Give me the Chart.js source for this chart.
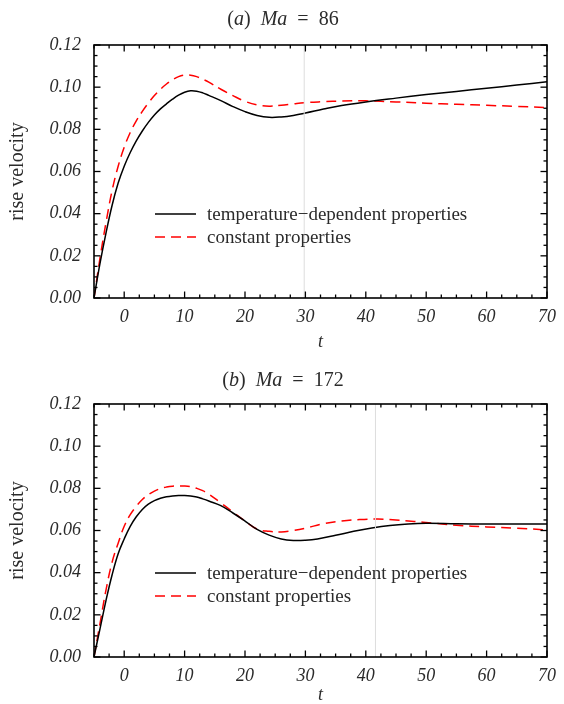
<!DOCTYPE html>
<html><head><meta charset="utf-8">
<script src="https://cdn.jsdelivr.net/npm/chart.js@4.4.1/dist/chart.umd.min.js"></script>
<style>
html,body{margin:0;padding:0;background:#fff;}
.box{position:absolute;left:0;width:564px;}
</style></head><body>
<div class="box" style="top:0;height:360px"><canvas id="c1" width="564" height="360"></canvas></div>
<div class="box" style="top:360px;height:344px"><canvas id="c2" width="564" height="344"></canvas></div>
<script>
// ---- data ----
const legendLabels = ['temperature\u2212dependent properties', 'constant properties'];
const xTickVals = [0, 10, 20, 30, 40, 50, 60, 70];
const yTickVals = [0, 0.02, 0.04, 0.06, 0.08, 0.10, 0.12];
const yTickLabels = ['0.00', '0.02', '0.04', '0.06', '0.08', '0.10', '0.12'];

// (a) Ma = 86
const tA_black = [-5,-4,-3,-2,-1,0,1,2,3,4,5,6,7,8,9,10,11,12,13,14,16,18,20,22,24,26,28,30,33,36,40,45,50,55,60,65,70];
const vA_black = [0,0.0165,0.031,0.044,0.0545,0.0625,0.0690,0.0745,0.0792,0.0833,0.0868,0.0897,0.0921,0.0943,0.0962,0.0976,0.0983,0.0981,0.0973,0.0961,0.0936,0.0908,0.0884,0.0866,0.0857,0.0859,0.0866,0.0877,0.0896,0.0913,0.0930,0.0948,0.0965,0.0980,0.0995,0.1010,0.1026];
const tA_red = [-5,-4,-3,-2,-1,0,1,2,3,4,5,6,7,8,9,10,11,12,13,14,16,18,20,22,24,26,28,30,33,36,40,45,50,55,60,65,70];
const vA_red = [0,0.019,0.036,0.051,0.0625,0.0715,0.0785,0.0840,0.0885,0.0925,0.0960,0.0990,0.1015,0.1035,0.1050,0.1057,0.1057,0.1050,0.1038,0.1024,0.0990,0.0960,0.0933,0.0916,0.0910,0.0914,0.0921,0.0927,0.0931,0.0934,0.0935,0.0930,0.0924,0.0919,0.0914,0.0909,0.0903];
const tA_mark = [29.8, 29.8];
const vA_mark = [0, 0.12];

// (b) Ma = 172
const tB_black = [-5,-4,-3,-2,-1,0,1,2,3,4,5,6,7,8,9,10,11,12,13,14,16,18,20,22,24,26,28,30,32,35,38,41,44,47,50,55,60,65,70];
const vB_black = [0,0.0135,0.027,0.039,0.049,0.056,0.062,0.0665,0.0700,0.0725,0.0742,0.0753,0.0760,0.0764,0.0766,0.0766,0.0764,0.0759,0.0750,0.0740,0.0718,0.0683,0.0645,0.0605,0.0578,0.0560,0.0553,0.0554,0.0560,0.0577,0.0596,0.0612,0.0624,0.0631,0.0634,0.0632,0.0631,0.0631,0.0631];
const tB_red = [-5,-4,-3,-2,-1,0,1,2,3,4,5,6,7,8,9,10,11,12,13,14,16,18,20,22,24,26,28,30,33,36,39,42,45,48,51,55,60,65,70];
const vB_red = [0,0.016,0.032,0.045,0.054,0.062,0.0675,0.0715,0.0747,0.0770,0.0787,0.0799,0.0806,0.0810,0.0811,0.0811,0.0808,0.0800,0.0789,0.0773,0.0731,0.0688,0.0645,0.0607,0.0596,0.0593,0.0600,0.0611,0.0632,0.0645,0.0652,0.0654,0.0650,0.0643,0.0635,0.0625,0.0617,0.0611,0.0603];
const tB_mark = [41.6, 41.6];
const vB_mark = [0, 0.12];

const titleA = [['(',0],['a',1],[')',0],['\u2002',0],['Ma',1],['\u2002=\u200286',0]];
const titleB = [['(',0],['b',1],[')',0],['\u2002',0],['Ma',1],['\u2002=\u2002172',0]];

// ---- drawing ----
const SERIF = "'Liberation Serif', 'Times New Roman', serif";
const TXT = '#2b2b2b';

function framePlugin(cfg) {
  return {
    id: 'frame',
    afterDatasetsDraw(chart) {
      const ctx = chart.ctx;
      const {left, right, top, bottom} = chart.chartArea;
      const xs = chart.scales.x, ys = chart.scales.y;
      ctx.save();
      ctx.strokeStyle = '#000';
      ctx.lineWidth = 1.3;
      const line = (a, b, c, d) => { ctx.beginPath(); ctx.moveTo(a, b); ctx.lineTo(c, d); ctx.stroke(); };
      for (let v = xs.min; v <= xs.max + 1e-9; v += 2.5) {
        const px = xs.getPixelForValue(v);
        const L = Math.abs(v % 10) < 1e-6 ? 6.5 : 3.5;
        line(px, bottom, px, bottom - L);
        line(px, top, px, top + L);
      }
      for (let k = 0; k <= 24; k++) {
        const v = k * 0.005;
        const py = ys.getPixelForValue(v);
        const L = k % 4 === 0 ? 6.5 : 3.5;
        line(left, py, left + L, py);
        line(right, py, right - L, py);
      }
      ctx.lineWidth = 1.6;
      ctx.strokeRect(left, top, right - left, bottom - top);
      // legend
      const ly = [top + 169, top + 192];
      const ds = chart.data.datasets;
      for (let i = 0; i < 2; i++) {
        const d = ds[i + 1];
        ctx.strokeStyle = d.borderColor;
        ctx.lineWidth = d.borderWidth;
        ctx.setLineDash(d.borderDash || []);
        line(left + 61, ly[i], left + 102, ly[i]);
        ctx.setLineDash([]);
        ctx.fillStyle = TXT;
        ctx.font = '19px ' + SERIF;
        ctx.textBaseline = 'middle';
        ctx.textAlign = 'left';
        ctx.fillText(d.label, left + 113, ly[i] + 1);
      }
      // title
      const fs = 20;
      const segs = cfg.title;
      let w = 0;
      segs.forEach(s => { ctx.font = (s[1] ? 'italic ' : '') + fs + 'px ' + SERIF; w += ctx.measureText(s[0]).width; });
      let x = 283 - w / 2;
      ctx.textBaseline = 'middle';
      segs.forEach(s => {
        ctx.font = (s[1] ? 'italic ' : '') + fs + 'px ' + SERIF;
        ctx.fillText(s[0], x, cfg.titleY);
        x += ctx.measureText(s[0]).width;
      });
      ctx.restore();
    }
  };
}

function makeChart(id, cfg) {
  const toXY = (ts, vs) => ts.map((t, i) => ({x: t, y: vs[i]}));
  return new Chart(document.getElementById(id), {
    type: 'line',
    data: {datasets: [
      {label: 'marker', data: toXY(cfg.markT, cfg.markV), borderColor: '#dddddd', borderWidth: 1, pointRadius: 0, tension: 0},
      {label: legendLabels[0], data: toXY(cfg.tb, cfg.vb), borderColor: '#000000', borderWidth: 1.5, pointRadius: 0, tension: 0.4},
      {label: legendLabels[1], data: toXY(cfg.tr, cfg.vr), borderColor: '#ff0000', borderWidth: 1.5, borderDash: [10, 6], pointRadius: 0, tension: 0.4}
    ]},
    options: {
      responsive: false, animation: false, devicePixelRatio: 1,
      layout: {padding: {top: cfg.top, right: 15, left: 0, bottom: 0}},
      plugins: {legend: {display: false}, tooltip: {enabled: false}, title: {display: false}},
      scales: {
        x: {
          type: 'linear', min: -5, max: 70,
          afterFit: s => { s.height = cfg.xh; },
          afterBuildTicks: s => { s.ticks = xTickVals.map(v => ({value: v})); },
          grid: {display: false, drawTicks: false},
          border: {display: false},
          ticks: {font: {family: SERIF, style: 'italic', size: 18}, color: TXT, padding: 8, maxRotation: 0, autoSkip: false, callback: v => String(v)},
          title: {display: true, text: 't', color: TXT, font: {family: SERIF, style: 'italic', size: 18, lineHeight: 1}, padding: {top: 0, bottom: cfg.xtPad}}
        },
        y: {
          type: 'linear', min: 0, max: 0.12,
          afterFit: s => { s.width = 94; },
          afterBuildTicks: s => { s.ticks = yTickVals.map(v => ({value: v})); },
          grid: {display: false, drawTicks: false},
          border: {display: false},
          ticks: {font: {family: SERIF, style: 'italic', size: 18}, color: TXT, padding: 13, autoSkip: false,
            callback: (v, i) => yTickLabels[i]},
          title: {display: true, text: 'rise velocity', color: TXT, font: {family: SERIF, size: 20, lineHeight: 1}, padding: {top: 8, bottom: 0}}
        }
      }
    },
    plugins: [framePlugin(cfg)]
  });
}

makeChart('c1', {tb: tA_black, vb: vA_black, tr: tA_red, vr: vA_red, markT: tA_mark, markV: vA_mark,
  top: 45, xh: 62, xtPad: 9, title: titleA, titleY: 20});
makeChart('c2', {tb: tB_black, vb: vB_black, tr: tB_red, vr: vB_red, markT: tB_mark, markV: vB_mark,
  top: 44, xh: 47, xtPad: 0, title: titleB, titleY: 21});
</script>
</body></html>
